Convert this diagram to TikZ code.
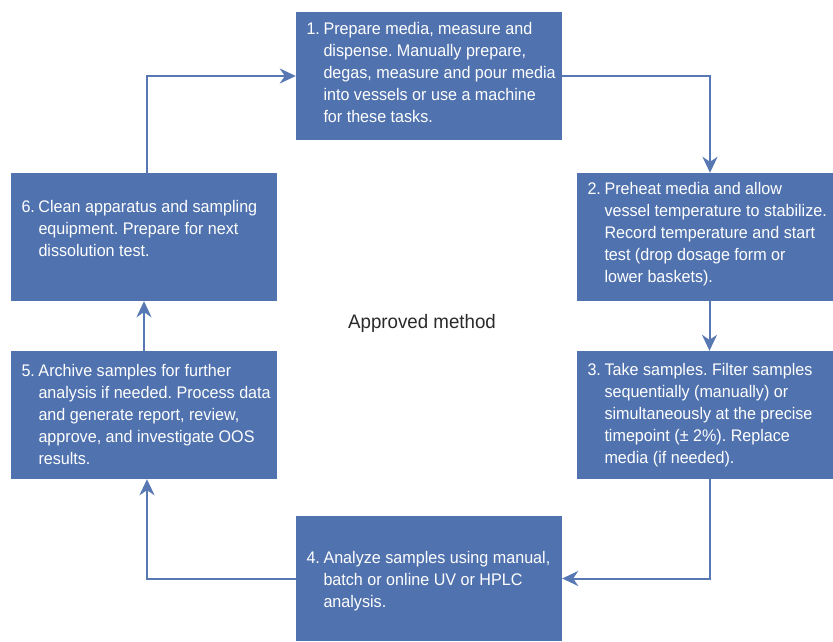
\documentclass[tikz,border=0pt]{standalone}
\usepackage{fontspec}
\setmainfont{Liberation Sans}[FakeStretch=0.96]
\usetikzlibrary{arrows.meta,calc}
\definecolor{boxblue}{HTML}{5072AE}
\definecolor{lineblue}{HTML}{5878B4}
\definecolor{labelgray}{HTML}{2A2A2A}
\newcommand\stepnum[2]{\begin{tabular}[t]{@{}p{17pt}@{}l@{}}#1&#2\end{tabular}}
\frenchspacing
\begin{document}
\begin{tikzpicture}[x=1pt,y=-1pt,
  stepbox/.style={draw=none,fill=boxblue,rectangle,inner sep=0pt},
  steptext/.style={anchor=base west,inner sep=0pt,text=white,font=\frenchspacing\fontsize{16.8}{22}\selectfont},
  flow/.style={draw=lineblue,line width=2pt,-{Stealth[length=16pt,width=15pt,inset=5pt]}}]
\useasboundingbox (0,0) rectangle (833,641);
% boxes
\node[stepbox,minimum width=266pt,minimum height=128pt] (b1) at (429,76) {};
\node[stepbox,minimum width=256pt,minimum height=128pt] (b2) at (705,237) {};
\node[stepbox,minimum width=256pt,minimum height=128pt] (b3) at (705,415) {};
\node[stepbox,minimum width=266pt,minimum height=125pt] (b4) at (429,578.5) {};
\node[stepbox,minimum width=266pt,minimum height=128pt] (b5) at (144,415) {};
\node[stepbox,minimum width=266pt,minimum height=128pt] (b6) at (144,237) {};
% texts
\node[steptext] (t1) at ($(b1.north west)+(10.5,23)$) {\stepnum{1.}{Prepare media, measure and\\&dispense. Manually prepare,\\&degas, measure and pour media\\&into vessels or use a machine\\&for these tasks.}};
\node[steptext] (t2) at ($(b2.north west)+(10.5,22)$) {\stepnum{2.}{Preheat media and allow\\&vessel temperature to stabilize.\\&Record temperature and start\\&test (drop dosage form or\\&lower baskets).}};
\node[steptext] (t3) at ($(b3.north west)+(10.5,25)$) {\stepnum{3.}{Take samples. Filter samples\\&sequentially (manually) or\\&simultaneously at the precise\\&timepoint (± 2\%). Replace\\&media (if needed).}};
\node[steptext] (t4) at ($(b4.north west)+(10.5,48)$) {\stepnum{4.}{Analyze samples using manual,\\&batch or online UV or HPLC\\&analysis.}};
\node[steptext] (t5) at ($(b5.north west)+(10.5,26)$) {\stepnum{5.}{Archive samples for further\\&analysis if needed. Process data\\&and generate report, review,\\&approve, and investigate OOS\\&results.}};
\node[steptext] (t6) at ($(b6.north west)+(10.5,40)$) {\stepnum{6.}{Clean apparatus and sampling\\&equipment. Prepare for next\\&dissolution test.}};
\node[anchor=base,inner sep=0pt,text=labelgray,font=\fontsize{19.5}{24}\selectfont] (lbl) at (422,328) {Approved method};
% connectors
\draw[flow] (b1.east) -| ([xshift=5pt]b2.north);
\draw[flow] ([xshift=4.5pt]b2.south) -- ([xshift=4.5pt]b3.north);
\draw[flow] ([xshift=4.5pt]b3.south) |- (b4.east);
\draw[flow] (b4.west) -| ([xshift=3pt]b5.south);
\draw[flow] (b5.north) -- (b6.south);
\draw[flow] ([xshift=3pt]b6.north) |- (b1.west);
\end{tikzpicture}
\end{document}
